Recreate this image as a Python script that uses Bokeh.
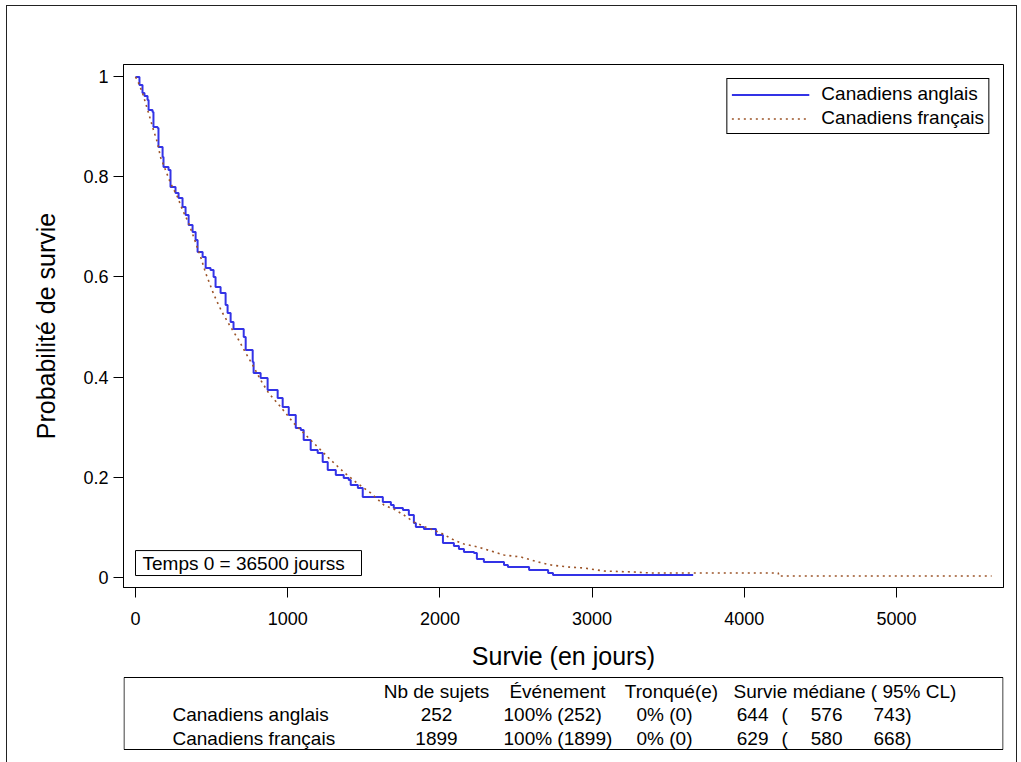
from bokeh.plotting import figure
from bokeh.layouts import column
from bokeh.models import Range1d, FixedTicker, Label, BoxAnnotation, Legend, LegendItem, ColumnDataSource
from bokeh.core.properties import value
from bokeh.embed import file_html
from bokeh.resources import INLINE

# ---------------- data ----------------
anglais_t = [0, 26, 46, 59, 79, 86, 112, 118, 145, 151, 178, 184, 217, 230, 263, 283, 309, 329, 349, 375,
             395, 408, 441, 461, 493, 513, 526, 559, 592, 605, 625, 644, 711, 724, 770, 776, 822, 868, 934, 967,
             1007, 1053, 1086, 1105, 1151, 1197, 1230, 1263, 1316, 1368, 1401, 1414, 1461, 1493, 1625, 1678,
             1697, 1757, 1796, 1829, 1842, 1895, 1974, 2020, 2092, 2125, 2158, 2224, 2243, 2289, 2421, 2447,
             2586, 2711, 2743, 3664]
anglais_s = [1.0, 0.984, 0.968, 0.962, 0.954, 0.934, 0.930, 0.900, 0.898, 0.860, 0.840, 0.820, 0.814, 0.780,
             0.768, 0.758, 0.740, 0.724, 0.704, 0.690, 0.674, 0.650, 0.640, 0.618, 0.614, 0.600, 0.580, 0.568,
             0.544, 0.528, 0.510, 0.496, 0.480, 0.454, 0.430, 0.408, 0.398, 0.374, 0.358, 0.340, 0.324, 0.298,
             0.294, 0.274, 0.254, 0.248, 0.230, 0.214, 0.204, 0.198, 0.194, 0.184, 0.178, 0.160, 0.150, 0.144,
             0.138, 0.134, 0.124, 0.108, 0.100, 0.096, 0.084, 0.068, 0.062, 0.056, 0.050, 0.048, 0.036, 0.030,
             0.024, 0.020, 0.014, 0.008, 0.004, 0.004]

francais_t = [0, 20, 46, 66, 99, 118, 145, 164, 197, 230, 276, 309, 349, 382, 428, 461, 513, 546, 572, 625,
              678, 724, 770, 822, 875, 954, 1039, 1118, 1197, 1283, 1368, 1447, 1546, 1632, 1697, 1763, 1829,
              1921, 2007, 2092, 2158, 2250, 2336, 2421, 2533, 2645, 2730, 2842, 2947, 3079, 3276, 3388, 4224,
              4224, 5625]
francais_s = [1.0, 0.988, 0.968, 0.948, 0.914, 0.894, 0.868, 0.840, 0.814, 0.788, 0.760, 0.734, 0.708, 0.680,
              0.640, 0.608, 0.566, 0.544, 0.528, 0.500, 0.474, 0.448, 0.424, 0.394, 0.368, 0.340, 0.308, 0.284,
              0.260, 0.234, 0.210, 0.190, 0.168, 0.144, 0.136, 0.124, 0.110, 0.098, 0.088, 0.074, 0.066, 0.060,
              0.052, 0.044, 0.040, 0.030, 0.024, 0.020, 0.018, 0.012, 0.010, 0.008, 0.008, 0.002, 0.002]

x_ticks = [0, 1000, 2000, 3000, 4000, 5000]
y_ticks = [0, 0.2, 0.4, 0.6, 0.8, 1]
y_tick_labels = ["0", "0.2", "0.4", "0.6", "0.8", "1"]

groups = ["Canadiens anglais", "Canadiens français"]
n_subjects = [252, 1899]
n_events = [252, 1899]
n_censored = [0, 0]
median_surv = [644, 629]
ci_low = [576, 580]
ci_high = [743, 668]
table_headers = ["Nb de sujets", "Événement", "Tronqué(e)", "Survie médiane ( 95% CL)"]
note_text = "Temps 0 = 36500 jourss"

# ---------------- layout helpers (canvas pixels -> data) ----------------
FONT = "Liberation Sans"
W, H = 1021, 762
H_TOP = 672
FL, FR, FT, FB = 123, 1003, 64, 588   # frame edges in px
X0, KX = 135.0, 0.1522      # px of t=0, px per day
Y0, KY = 577.5, 501.0       # px of S=0, px per unit


def dx(px):
    return (px - X0) / KX


def dy(py):
    return (Y0 - py) / KY


# ---------------- main survival plot ----------------
p = figure(width=W, height=H_TOP, output_backend="svg", toolbar_location=None,
           x_range=Range1d(dx(FL), dx(FR)), y_range=Range1d(dy(FB), dy(FT)),
           min_border_left=FL, min_border_right=W - FR, min_border_top=FT,
           min_border_bottom=H_TOP - FB)
p.background_fill_color = "white"
p.border_fill_color = None
p.outline_line_color = "black"
p.outline_line_width = 1
p.xgrid.visible = False
p.ygrid.visible = False

r1 = p.step(anglais_t, anglais_s, mode="after", line_color="#3333E6", line_width=2)
r2 = p.line(francais_t, francais_s, line_color="#9C5428", line_width=1.6, line_dash="2 4")

for ax in (p.xaxis[0], p.yaxis[0]):
    ax.axis_line_color = "black"
    ax.major_tick_line_color = "black"
    ax.major_tick_out = 10
    ax.major_tick_in = 0
    ax.minor_tick_line_color = None
    ax.major_label_text_font = FONT
    ax.major_label_text_font_size = "18px"
    ax.major_label_text_color = "black"
    ax.axis_label_text_font = FONT
    ax.axis_label_text_font_size = "25px"
    ax.axis_label_text_font_style = "normal"
    ax.axis_label_text_color = "black"

p.xaxis.ticker = FixedTicker(ticks=x_ticks)
p.yaxis.ticker = FixedTicker(ticks=y_ticks)
p.yaxis.major_label_overrides = {v: s for v, s in zip(y_ticks, y_tick_labels)}
p.xaxis.axis_label = "Survie (en jours)"
p.yaxis.axis_label = "Probabilité de survie"
p.xaxis.major_label_standoff = 14
p.xaxis.axis_label_standoff = 14
p.yaxis.major_label_standoff = 5
p.yaxis.axis_label_standoff = 20

legend = Legend(items=[LegendItem(label=groups[0], renderers=[r1]),
                       LegendItem(label=groups[1], renderers=[r2])],
                location="top_right", margin=14, padding=4, spacing=2,
                glyph_width=78, glyph_height=21, label_height=21, label_standoff=12,
                label_text_font=FONT, label_text_font_size="19px", label_text_color="black",
                border_line_color="black", border_line_width=1, border_line_alpha=1,
                background_fill_color="white", background_fill_alpha=1)
p.add_layout(legend)

p.add_layout(BoxAnnotation(left=dx(135), right=dx(361), top=dy(551), bottom=dy(576),
                           fill_color="white", fill_alpha=1, line_color="black", line_alpha=1,
                           line_width=1))
p.add_layout(Label(x=dx(142), y=dy(564), text=note_text, text_font=FONT, text_font_size="19px",
                   text_baseline="middle", text_align="left", text_color="black"))

# ---------------- summary table (px coordinates; frame aligned with the plot above) ----------------
t = figure(width=W, height=H - H_TOP, output_backend="svg", toolbar_location=None,
           x_range=Range1d(FL, FR), y_range=Range1d(H, H_TOP),
           x_axis_location=None, y_axis_location=None,
           min_border_left=FL, min_border_right=W - FR, min_border_top=0, min_border_bottom=0)
t.background_fill_color = None
t.border_fill_color = None
t.outline_line_color = None
t.xgrid.visible = False
t.ygrid.visible = False
t.quad(left=[FL + 0.5], right=[FR - 0.5], top=[677], bottom=[749], fill_color=None,
       line_color="black", line_width=1)

row_y = [691, 714, 738]
txt = {"x": [], "y": [], "s": [], "a": []}


def put(text, px, py, align="left"):
    txt["x"].append(px)
    txt["y"].append(py)
    txt["s"].append(text)
    txt["a"].append(align)


put(table_headers[0], 436, row_y[0], "center")
put(table_headers[1], 557, row_y[0], "center")
put(table_headers[2], 671, row_y[0], "center")
put(table_headers[3], 733, row_y[0], "left")
for i, g in enumerate(groups):
    yy = row_y[i + 1]
    put(g, 172, yy)
    put(str(n_subjects[i]), 436, yy, "center")
    put(f"{round(100 * n_events[i] / n_subjects[i])}% ({n_events[i]})", 503, yy)
    put(f"{round(100 * n_censored[i] / n_subjects[i])}% ({n_censored[i]})", 636, yy)
    put(str(median_surv[i]), 768, yy, "right")
    put("(", 781, yy)
    put(str(ci_low[i]), 842, yy, "right")
    put(f"{ci_high[i]})", 873, yy)

t.text(x="x", y="y", text="s", text_align="a", source=ColumnDataSource(txt),
       text_font=value(FONT), text_font_size=value("19px"), text_baseline="middle",
       text_color="black")

border_css = ("linear-gradient(#222,#222) 6px 5px / 1px 100% no-repeat, "
              "linear-gradient(#222,#222) 1016px 5px / 1px 100% no-repeat, "
              "linear-gradient(#222,#222) 6px 5px / 1011px 1px no-repeat, white")
layout = column(p, t, spacing=0, styles={"background": border_css})

open("out.html", "w").write(file_html(layout, INLINE))
